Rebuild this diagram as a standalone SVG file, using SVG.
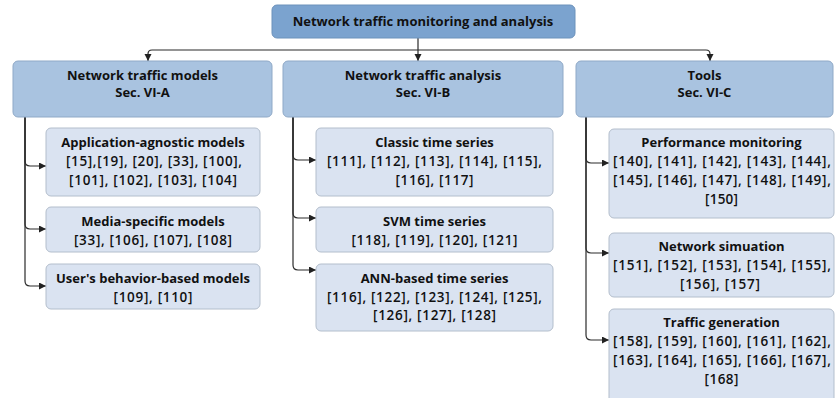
<svg xmlns="http://www.w3.org/2000/svg" width="835" height="398" viewBox="0 0 835 398">
  <defs>
    <marker id="arrow" markerUnits="userSpaceOnUse" markerWidth="8" markerHeight="8" refX="7" refY="3.5" orient="auto">
      <path d="M0,0 L7,3.5 L0,7 z" fill="#222"/>
    </marker>
    <style>
      text { font-family: "Open Sans", "Noto Sans", "DejaVu Sans", sans-serif; font-size: 13px; fill: #111; text-anchor: middle; }
      .b { font-weight: 700; }
      .r { font-size: 13.5px; font-weight: 600; }
      .root { fill: #7ba3cf; stroke: #6d92bb; stroke-width: 1; }
      .sec { fill: #a9c3e0; stroke: #8fa9c7; stroke-width: 1; }
      .leaf { fill: #dae3f1; stroke: #b3becc; stroke-width: 1; }
      .conn { fill: none; stroke: #2b2b2b; stroke-width: 1.2; marker-end: url(#arrow); }
    </style>
  </defs>

  <rect width="835" height="398" fill="#ffffff"/>

  <!-- connectors -->
  <g id="connectors">
    <path class="conn" d="M418,38 V61"/>
    <path class="conn" d="M418,50 H152 Q148,50 148,54 V61"/>
    <path class="conn" d="M418,50 H706 Q710,50 710,54 V61"/>

    <path class="conn" d="M25,117 V161 Q25,166 30,166 H46"/>
    <path class="conn" d="M25,117 V224 Q25,229 30,229 H46"/>
    <path class="conn" d="M25,117 V281 Q25,286 30,286 H46"/>

    <path class="conn" d="M293,117 V155 Q293,160 298,160 H316"/>
    <path class="conn" d="M293,117 V213 Q293,218 298,218 H316"/>
    <path class="conn" d="M293,117 V265 Q293,270 298,270 H316"/>

    <path class="conn" d="M586,117 V158 Q586,163 591,163 H609"/>
    <path class="conn" d="M586,117 V248 Q586,253 591,253 H609"/>
    <path class="conn" d="M586,117 V335 Q586,340 591,340 H609"/>
  </g>

  <!-- root -->
  <g id="root">
    <rect class="root" x="272" y="5" width="303" height="33" rx="5"/>
    <text class="b" x="423" y="25.5">Network traffic monitoring and analysis</text>
  </g>

  <!-- section nodes -->
  <g id="sec-a">
    <rect class="sec" x="13" y="61" width="259" height="56" rx="5"/>
    <text class="b" x="142.5" y="80">Network traffic models</text>
    <text class="b" x="142.5" y="97">Sec. VI-A</text>
  </g>
  <g id="sec-b">
    <rect class="sec" x="283" y="61" width="280" height="56" rx="5"/>
    <text class="b" x="423" y="80">Network traffic analysis</text>
    <text class="b" x="423" y="97">Sec. VI-B</text>
  </g>
  <g id="sec-c">
    <rect class="sec" x="576" y="61" width="257" height="56" rx="5"/>
    <text class="b" x="704.5" y="80">Tools</text>
    <text class="b" x="704.5" y="97">Sec. VI-C</text>
  </g>

  <!-- Sec. VI-A leaves -->
  <g id="app-agnostic">
    <rect class="leaf" x="46" y="128" width="214" height="68" rx="5"/>
    <text class="b" x="153" y="147">Application-agnostic models</text>
    <text class="r" x="154" y="166" textLength="176">[15],[19], [20], [33], [100],</text>
    <text class="r" x="153" y="185" textLength="168">[101], [102], [103], [104]</text>
  </g>
  <g id="media-specific">
    <rect class="leaf" x="46" y="207" width="214" height="45" rx="5"/>
    <text class="b" x="153" y="226">Media-specific models</text>
    <text class="r" x="153" y="245" textLength="158">[33], [106], [107], [108]</text>
  </g>
  <g id="user-behavior">
    <rect class="leaf" x="46" y="264" width="214" height="45" rx="5"/>
    <text class="b" x="153" y="283">User's behavior-based models</text>
    <text class="r" x="153" y="302" textLength="79">[109], [110]</text>
  </g>

  <!-- Sec. VI-B leaves -->
  <g id="classic-ts">
    <rect class="leaf" x="316" y="128" width="237" height="68" rx="5"/>
    <text class="b" x="434.5" y="147">Classic time series</text>
    <text class="r" x="434.5" y="166" textLength="215">[111], [112], [113], [114], [115],</text>
    <text class="r" x="434.5" y="185" textLength="78">[116], [117]</text>
  </g>
  <g id="svm-ts">
    <rect class="leaf" x="316" y="207" width="237" height="45" rx="5"/>
    <text class="b" x="434.5" y="226">SVM time series</text>
    <text class="r" x="434.5" y="245" textLength="166">[118], [119], [120], [121]</text>
  </g>
  <g id="ann-ts">
    <rect class="leaf" x="316" y="264" width="237" height="67" rx="5"/>
    <text class="b" x="434.5" y="283">ANN-based time series</text>
    <text class="r" x="434.5" y="302" textLength="215">[116], [122], [123], [124], [125],</text>
    <text class="r" x="434.5" y="320" textLength="123">[126], [127], [128]</text>
  </g>

  <!-- Sec. VI-C leaves -->
  <g id="perf-monitoring">
    <rect class="leaf" x="609" y="129" width="225" height="89" rx="5"/>
    <text class="b" x="721.5" y="147">Performance monitoring</text>
    <text class="r" x="722" y="166" textLength="218">[140], [141], [142], [143], [144],</text>
    <text class="r" x="722" y="185" textLength="218">[145], [146], [147], [148], [149],</text>
    <text class="r" x="721.5" y="204" textLength="33">[150]</text>
  </g>
  <g id="net-simulation">
    <rect class="leaf" x="609" y="233" width="225" height="64" rx="5"/>
    <text class="b" x="721.5" y="251">Network simuation</text>
    <text class="r" x="722" y="270" textLength="218">[151], [152], [153], [154], [155],</text>
    <text class="r" x="720" y="289" textLength="80">[156], [157]</text>
  </g>
  <g id="traffic-gen">
    <rect class="leaf" x="609" y="309" width="225" height="95" rx="5"/>
    <text class="b" x="721.5" y="327">Traffic generation</text>
    <text class="r" x="722" y="346" textLength="218">[158], [159], [160], [161], [162],</text>
    <text class="r" x="722" y="365" textLength="218">[163], [164], [165], [166], [167],</text>
    <text class="r" x="721.5" y="384" textLength="34">[168]</text>
  </g>
</svg>
